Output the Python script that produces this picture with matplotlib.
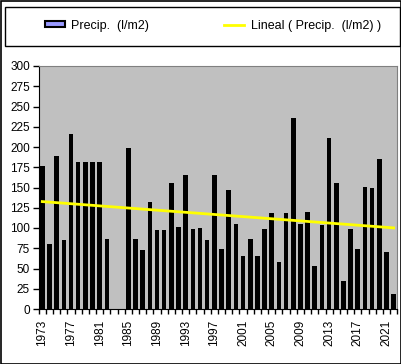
import numpy as np
import matplotlib.pyplot as plt
from matplotlib.patches import Rectangle, Patch
from matplotlib.lines import Line2D

plt.rcParams['font.family'] = ['Liberation Sans', 'DejaVu Sans']

years = list(range(1973, 2023))
precip = [176, 80, 189, 85, 216, 181, 181, 181, 181, 87,
          0, 0, 199, 86, 73, 132, 98, 98, 156, 101,
          165, 99, 100, 85, 166, 74, 147, 105, 65, 86,
          65, 99, 119, 58, 119, 236, 105, 120, 53, 104,
          211, 156, 35, 99, 74, 151, 149, 185, 70, 19]
year_labels = [str(y) for y in years[::4]]

fig = plt.figure(figsize=(4.02, 3.64), dpi=100)
ax = fig.add_axes([38.7 / 402, 55 / 364, 358.5 / 402, 243 / 364])
ax.set_facecolor('#C0C0C0')

x = np.arange(len(years))
# bars are so thin that the black border swallows the blue fill
ax.bar(x, precip, width=0.64, color='black', linewidth=0)

# linear trend as Excel draws it
coef = np.polyfit(x, precip, 1)
ax.plot(x, np.polyval(coef, x), color='#FFFF00', linewidth=2)

ax.set_xlim(-0.5, len(years) - 0.5)
ax.set_ylim(0, 300)
ax.set_yticks(range(0, 301, 25))
ax.tick_params(axis='y', length=4.3, width=1, pad=2, labelsize=8.5)

ax.set_xticks(x[::4])
ax.set_xticklabels(year_labels, rotation=90, fontsize=8.5)
ax.set_xticks(np.arange(-0.5, len(years)), minor=True)
ax.tick_params(axis='x', which='major', length=0, pad=8)
ax.tick_params(axis='x', which='minor', length=3.6, width=1)

for side in ['top', 'right']:
    ax.spines[side].set_color('#808080')
for side in ['left', 'bottom']:
    ax.spines[side].set_color('black')

handles = [Patch(facecolor='#9999FF', edgecolor='black', linewidth=1.5),
           Line2D([0], [0], color='#FFFF00', linewidth=2)]
fig.legend(handles, ['Precip.  (l/m2)', 'Lineal ( Precip.  (l/m2) )'],
           loc='center', bbox_to_anchor=(213 / 402, 1 - 25.5 / 364), ncol=2,
           frameon=False, fontsize=9, handlelength=1.6, handleheight=0.4,
           handletextpad=0.5, columnspacing=6.0)

fig.patches.append(Rectangle((5 / 402, 1 - 46 / 364), 395 / 402, 39 / 364,
                             transform=fig.transFigure, fill=False,
                             edgecolor='black', linewidth=1))
fig.patches.append(Rectangle((0.5 / 402, 0.5 / 364), 400.5 / 402, 363 / 364,
                             transform=fig.transFigure, fill=False,
                             edgecolor='black', linewidth=1.2))

fig.savefig('out.png', dpi=100)
